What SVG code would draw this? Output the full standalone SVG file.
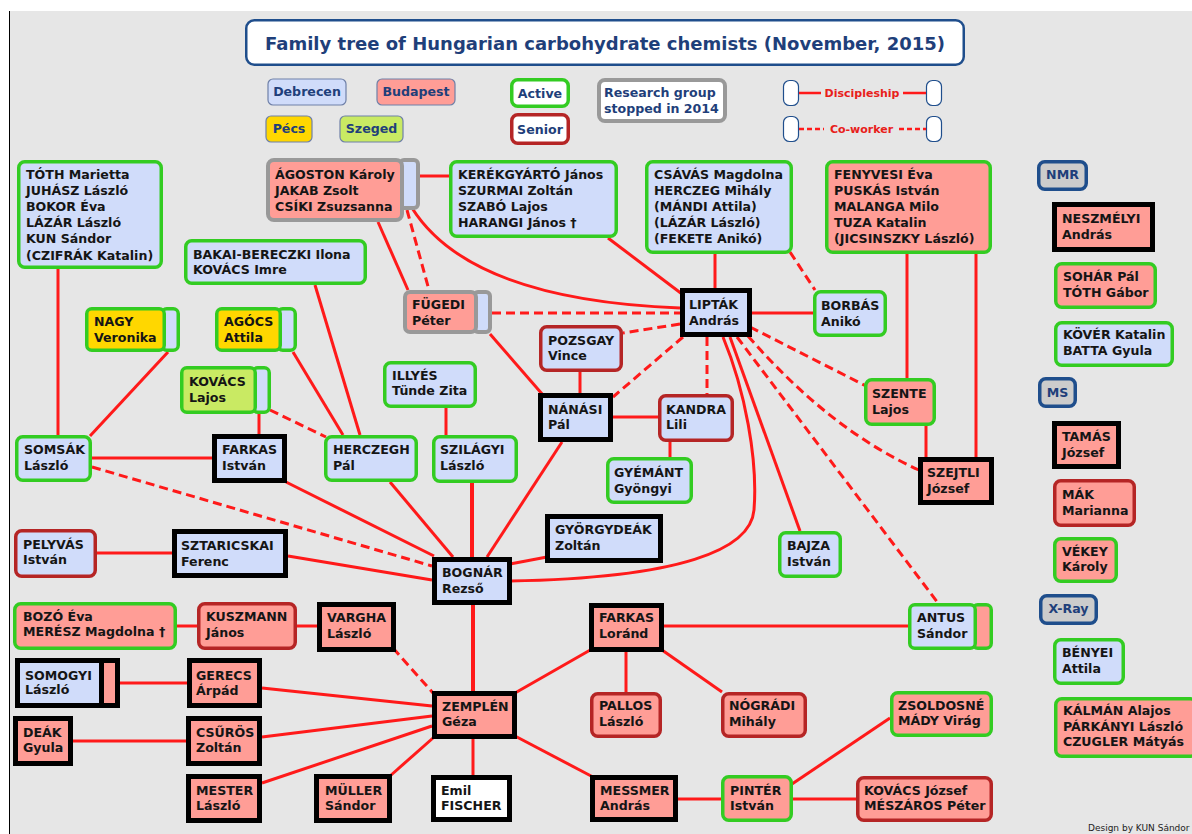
<svg xmlns="http://www.w3.org/2000/svg" width="1192" height="834" viewBox="0 0 1192 834">
<style>
text{font-family:"DejaVu Sans",Verdana,sans-serif;font-weight:bold;font-size:12.6px;fill:#151515}
.lg{fill:#1f3f7a}
.mid{text-anchor:middle}
.bl{fill:#d0dcfa}.sa{fill:#ff9d96}.ye{fill:#ffd700}.sz{fill:#c9ea63}.wh{fill:#fff}.gy{fill:#cccccc}
.g{stroke:#33cc22;stroke-width:3.5}
.r{stroke:#b52525;stroke-width:3.5}
.k{stroke:#000;stroke-width:5}
.y{stroke:#999;stroke-width:4}
.nb{stroke:#1f4e8c;stroke-width:3.5}
.lp{stroke:#6f80a8;stroke-width:1.2}
.c{fill:none;stroke:#ff1a1a;stroke-width:3}
.t{stroke-width:4}
.d{stroke-dasharray:9 5}
</style>
<rect x="0" y="0" width="1192" height="834" fill="#fff"/>
<rect x="10" y="11" width="1182" height="823" fill="#e6e6e6"/>
<line x1="9.5" y1="11" x2="9.5" y2="834" stroke="#000" stroke-width="1"/>

<g id="title">
<rect x="246.25" y="20.25" width="717.5" height="44.5" rx="8" fill="#fff" stroke="#1f4e8c" stroke-width="2.5"/>
<text x="605" y="50" class="lg mid" style="font-size:18px" textLength="680" lengthAdjust="spacingAndGlyphs">Family tree of Hungarian carbohydrate chemists (November, 2015)</text>
</g>

<g id="legend">
<rect x="268" y="79" width="78" height="26" rx="5" class="bl lp"/>
<text x="307" y="96" class="lg mid">Debrecen</text>
<rect x="377" y="79" width="78" height="26" rx="5" class="sa lp"/>
<text x="416" y="96" class="lg mid">Budapest</text>
<rect x="266" y="116" width="46" height="26" rx="5" class="ye lp"/>
<text x="289" y="133" class="lg mid">Pécs</text>
<rect x="340" y="116" width="63" height="26" rx="5" class="sz lp"/>
<text x="371.5" y="133" class="lg mid">Szeged</text>
<rect x="511.75" y="79.75" width="56.5" height="26.5" rx="6" class="wh g"/>
<text x="540" y="97.5" class="lg mid">Active</text>
<rect x="511.75" y="114.75" width="56.5" height="28.5" rx="6" class="wh r"/>
<text x="540" y="133.5" class="lg mid">Senior</text>
<rect x="599" y="80" width="126" height="41" rx="6" class="wh y"/>
<text x="604" y="96.5" class="lg">Research group</text>
<text x="604" y="112.5" class="lg">stopped in 2014</text>
<rect x="783.5" y="80.5" width="15" height="25" rx="6" fill="#fff" stroke="#1f4e8c" stroke-width="1.2"/>
<rect x="926.5" y="80.5" width="15" height="25" rx="6" fill="#fff" stroke="#1f4e8c" stroke-width="1.2"/>
<path d="M799,93H821M903,93H926" class="c" style="stroke-width:2.5"/>
<text x="862" y="97" class="mid" style="fill:#e8201a;font-size:11px">Discipleship</text>
<rect x="783.5" y="116.5" width="15" height="25" rx="6" fill="#fff" stroke="#1f4e8c" stroke-width="1.2"/>
<rect x="926.5" y="116.5" width="15" height="25" rx="6" fill="#fff" stroke="#1f4e8c" stroke-width="1.2"/>
<path d="M799,129H824M899,129H926" class="c" style="stroke-width:2.5;stroke-dasharray:5 3"/>
<text x="861.5" y="133" class="mid" style="fill:#e8201a;font-size:11px">Co-worker</text>
</g>

<g id="connectors">
<path class="c" d="M58,269V435"/>
<path class="c" d="M168,352L90,436"/>
<path class="c" d="M293,352L343,435"/>
<path class="c" d="M315,285L360,435"/>
<path class="c" d="M259,414V434"/>
<path class="c" d="M92,458H212"/>
<path class="c" d="M286,482L434,556"/>
<path class="c" d="M288,556L432,580"/>
<path class="c" d="M97,553H172"/>
<path class="c" d="M390,482L453,557"/>
<path class="c t" d="M472,483V557"/>
<path class="c" d="M446,408V435"/>
<path class="c" d="M562,442L487,557"/>
<path class="c" d="M547,557L510,564"/>
<path class="c" d="M723,337C745,390 758,460 754,510C750.8,550 680,578 510,581"/>
<path class="c" d="M613,417H658"/>
<path class="c" d="M580,372V393"/>
<path class="c" d="M670,442V457"/>
<path class="c" d="M490,334L543,395"/>
<path class="c" d="M412,208Q470,300 680,308"/>
<path class="c" d="M378,222L408,290"/>
<path class="c" d="M420,176H449"/>
<path class="c" d="M608,238L682,294"/>
<path class="c" d="M715,254V288"/>
<path class="c" d="M752,313H813"/>
<path class="c" d="M907,254V378"/>
<path class="c" d="M976,254V457"/>
<path class="c" d="M926,426V457"/>
<path class="c" d="M730,337L800,531"/>
<path class="c" d="M664,626H908"/>
<path class="c t" d="M473,605V691"/>
<path class="c" d="M515,693L592,649"/>
<path class="c" d="M626,652V692"/>
<path class="c" d="M662,650L722,692"/>
<path class="c" d="M515,736L593,777"/>
<path class="c" d="M473,739V775"/>
<path class="c" d="M678,799H721"/>
<path class="c" d="M792,784L890,718"/>
<path class="c" d="M793,799H856"/>
<path class="c" d="M262,688L432,706"/>
<path class="c" d="M262,737L432,716"/>
<path class="c" d="M262,783L432,726"/>
<path class="c" d="M390,776L433,738"/>
<path class="c" d="M297,626H317"/>
<path class="c" d="M177,626H197"/>
<path class="c" d="M120,683H187"/>
<path class="c" d="M73,741H186"/>
<path class="c d" d="M270,410L326,437"/>
<path class="c d" d="M92,467L432,566"/>
<path class="c d" d="M683,337L613,397"/>
<path class="c d" d="M707,337V394"/>
<path class="c d" d="M680,324L623,333"/>
<path class="c d" d="M492,313H680"/>
<path class="c d" d="M407,210L429,290"/>
<path class="c d" d="M790,252L815,290"/>
<path class="c d" d="M750,327L866,386"/>
<path class="c d" d="M748,336Q830,430 919,470"/>
<path class="c d" d="M737,337L938,603"/>
<path class="c d" d="M393,648L433,693"/>
</g>

<g id="toth"><rect x="18.75" y="161.75" width="142.5" height="105.5" rx="6" class="bl g"/>
<text x="26" y="178.6"><tspan x="26">TÓTH Marietta</tspan><tspan x="26" dy="16.2">JUHÁSZ László</tspan><tspan x="26" dy="16.2">BOKOR Éva</tspan><tspan x="26" dy="16.2">LÁZÁR László</tspan><tspan x="26" dy="16.2">KUN Sándor</tspan><tspan x="26" dy="16.2">(CZIFRÁK Katalin)</tspan></text></g>

<g id="agoston"><rect x="400" y="160" width="18" height="48" rx="4" class="bl y"/><rect x="268" y="160" width="134" height="60" rx="6" class="sa y"/>
<text x="275" y="178.5"><tspan x="275">ÁGOSTON Károly</tspan><tspan x="275" dy="16">JAKAB Zsolt</tspan><tspan x="275" dy="16">CSÍKI Zsuzsanna</tspan></text></g>

<g id="bakai"><rect x="185.75" y="240.75" width="179.5" height="42.5" rx="6" class="bl g"/>
<text x="193" y="258.5"><tspan x="193">BAKAI-BERECZKI Ilona</tspan><tspan x="193" dy="15.5">KOVÁCS Imre</tspan></text></g>

<g id="nagy"><rect x="161.75" y="308.75" width="16.5" height="41.5" rx="5" class="bl g"/><rect x="86.75" y="308.75" width="77.5" height="41.5" rx="5" class="ye g"/>
<text x="94" y="325.5"><tspan x="94">NAGY</tspan><tspan x="94" dy="16">Veronika</tspan></text></g>

<g id="agocs"><rect x="277.75" y="308.75" width="17.5" height="41.5" rx="5" class="bl g"/><rect x="216.75" y="308.75" width="63.5" height="41.5" rx="5" class="ye g"/>
<text x="224" y="325.5"><tspan x="224">AGÓCS</tspan><tspan x="224" dy="16">Attila</tspan></text></g>

<g id="kerekgyarto"><rect x="450.75" y="161.75" width="165.5" height="74.5" rx="6" class="bl g"/>
<text x="458" y="178.5"><tspan x="458">KERÉKGYÁRTÓ János</tspan><tspan x="458" dy="16">SZURMAI Zoltán</tspan><tspan x="458" dy="16">SZABÓ Lajos</tspan><tspan x="458" dy="16">HARANGI János †</tspan></text></g>

<g id="csavas"><rect x="646.75" y="161.75" width="144.5" height="90.5" rx="6" class="bl g"/>
<text x="654" y="178.5"><tspan x="654">CSÁVÁS Magdolna</tspan><tspan x="654" dy="16">HERCZEG Mihály</tspan><tspan x="654" dy="16">(MÁNDI Attila)</tspan><tspan x="654" dy="16">(LÁZÁR László)</tspan><tspan x="654" dy="16">(FEKETE Anikó)</tspan></text></g>

<g id="fenyvesi"><rect x="826.75" y="161.75" width="163.5" height="90.5" rx="6" class="sa g"/>
<text x="834" y="178.5"><tspan x="834">FENYVESI Éva</tspan><tspan x="834" dy="16">PUSKÁS István</tspan><tspan x="834" dy="16">MALANGA Milo</tspan><tspan x="834" dy="16">TUZA Katalin</tspan><tspan x="834" dy="16">(JICSINSZKY László)</tspan></text></g>

<g id="fugedi"><rect x="474" y="292" width="16" height="40" rx="4" class="bl y"/><rect x="405" y="292" width="71" height="40" rx="5" class="sa y"/>
<text x="412" y="308.5"><tspan x="412">FÜGEDI</tspan><tspan x="412" dy="16">Péter</tspan></text></g>

<g id="liptak"><rect x="682.5" y="290.5" width="67" height="44" class="bl k"/>
<text x="689" y="308.5"><tspan x="689">LIPTÁK</tspan><tspan x="689" dy="16.5">András</tspan></text></g>

<g id="borbas"><rect x="814.75" y="291.75" width="70.5" height="43.5" rx="6" class="bl g"/>
<text x="821" y="309.5"><tspan x="821">BORBÁS</tspan><tspan x="821" dy="16">Anikó</tspan></text></g>

<g id="pozsgay"><rect x="540.75" y="326.75" width="80.5" height="43.5" rx="6" class="bl r"/>
<text x="548" y="344.5"><tspan x="548">POZSGAY</tspan><tspan x="548" dy="15.5">Vince</tspan></text></g>

<g id="kovacs-lajos"><rect x="252.75" y="367.75" width="16.5" height="44.5" rx="5" class="bl g"/><rect x="181.75" y="367.75" width="73.5" height="44.5" rx="5" class="sz g"/>
<text x="189" y="386"><tspan x="189">KOVÁCS</tspan><tspan x="189" dy="16">Lajos</tspan></text></g>

<g id="illyes"><rect x="384.75" y="362.75" width="90.5" height="43.5" rx="6" class="bl g"/>
<text x="392" y="379.5"><tspan x="392">ILLYÉS</tspan><tspan x="392" dy="15.5">Tünde Zita</tspan></text></g>

<g id="nanasi"><rect x="540.5" y="395.5" width="70" height="44" class="bl k"/>
<text x="548" y="413.5"><tspan x="548">NÁNÁSI</tspan><tspan x="548" dy="15.5">Pál</tspan></text></g>

<g id="kandra"><rect x="659.75" y="395.75" width="72.5" height="44.5" rx="6" class="bl r"/>
<text x="666" y="413.5"><tspan x="666">KANDRA</tspan><tspan x="666" dy="15.5">Lili</tspan></text></g>

<g id="szente"><rect x="865.75" y="379.75" width="68.5" height="44.5" rx="6" class="sa g"/>
<text x="872" y="397.5"><tspan x="872">SZENTE</tspan><tspan x="872" dy="16">Lajos</tspan></text></g>

<g id="somsak"><rect x="16.75" y="436.75" width="73.5" height="43.5" rx="6" class="bl g"/>
<text x="24" y="453.5"><tspan x="24">SOMSÁK</tspan><tspan x="24" dy="16">László</tspan></text></g>

<g id="farkas-istvan"><rect x="214.5" y="436.5" width="70" height="44" class="bl k"/>
<text x="222" y="453.5"><tspan x="222">FARKAS</tspan><tspan x="222" dy="16">István</tspan></text></g>

<g id="herczegh"><rect x="325.75" y="436.75" width="90.5" height="43.5" rx="6" class="bl g"/>
<text x="333" y="453.5"><tspan x="333">HERCZEGH</tspan><tspan x="333" dy="16">Pál</tspan></text></g>

<g id="szilagyi"><rect x="433.75" y="436.75" width="82.5" height="44.5" rx="6" class="bl g"/>
<text x="440" y="453.5"><tspan x="440">SZILÁGYI</tspan><tspan x="440" dy="16">László</tspan></text></g>

<g id="gyemant"><rect x="607.75" y="458.75" width="83.5" height="43.5" rx="6" class="bl g"/>
<text x="614" y="476.5"><tspan x="614">GYÉMÁNT</tspan><tspan x="614" dy="16">Gyöngyi</tspan></text></g>

<g id="szejtli"><rect x="920.5" y="459.5" width="71" height="43" class="sa k"/>
<text x="927" y="477"><tspan x="927">SZEJTLI</tspan><tspan x="927" dy="15.5">József</tspan></text></g>

<g id="pelyvas"><rect x="15.75" y="530.75" width="79.5" height="45.5" rx="6" class="bl r"/>
<text x="23" y="548.5"><tspan x="23">PELYVÁS</tspan><tspan x="23" dy="15.5">István</tspan></text></g>

<g id="sztaricskai"><rect x="174.5" y="531.5" width="111" height="44" class="bl k"/>
<text x="181" y="549.5"><tspan x="181">SZTARICSKAI</tspan><tspan x="181" dy="16">Ferenc</tspan></text></g>

<g id="gyorgydeak"><rect x="547.5" y="516.5" width="113" height="44" class="bl k"/>
<text x="555" y="533.5"><tspan x="555">GYÖRGYDEÁK</tspan><tspan x="555" dy="16">Zoltán</tspan></text></g>

<g id="bajza"><rect x="779.75" y="532.75" width="60.5" height="43.5" rx="6" class="bl g"/>
<text x="787" y="549.5"><tspan x="787">BAJZA</tspan><tspan x="787" dy="16">István</tspan></text></g>

<g id="bognar"><rect x="434.5" y="559.5" width="75" height="43" class="bl k"/>
<text x="442" y="577"><tspan x="442">BOGNÁR</tspan><tspan x="442" dy="15.5">Rezső</tspan></text></g>

<g id="bozo"><rect x="14.75" y="603.75" width="160.5" height="44.5" rx="6" class="sa g"/>
<text x="23" y="621"><tspan x="23">BOZÓ Éva</tspan><tspan x="23" dy="15">MERÉSZ Magdolna †</tspan></text></g>

<g id="kuszmann"><rect x="198.75" y="603.75" width="96.5" height="44.5" rx="6" class="sa r"/>
<text x="206" y="621"><tspan x="206">KUSZMANN</tspan><tspan x="206" dy="15.5">János</tspan></text></g>

<g id="vargha"><rect x="319.5" y="604.5" width="74" height="45" class="sa k"/>
<text x="327" y="621.5"><tspan x="327">VARGHA</tspan><tspan x="327" dy="16">László</tspan></text></g>

<g id="farkas-lorand"><rect x="591.5" y="605.5" width="70" height="44" class="sa k"/>
<text x="599" y="622"><tspan x="599">FARKAS</tspan><tspan x="599" dy="15.5">Loránd</tspan></text></g>

<g id="antus"><rect x="972.75" y="604.75" width="18.5" height="43.5" rx="5" class="sa g"/><rect x="909.75" y="604.75" width="65.5" height="43.5" rx="5" class="bl g"/>
<text x="917" y="621.5"><tspan x="917">ANTUS</tspan><tspan x="917" dy="16">Sándor</tspan></text></g>

<g id="somogyi"><rect x="100.5" y="660.5" width="17" height="45" class="sa k"/><rect x="17.5" y="660.5" width="84" height="45" class="bl k"/>
<text x="25" y="679.5"><tspan x="25">SOMOGYI</tspan><tspan x="25" dy="14.5">László</tspan></text></g>

<g id="gerecs"><rect x="189.5" y="660.5" width="70" height="45" class="sa k"/>
<text x="196" y="679.5"><tspan x="196">GERECS</tspan><tspan x="196" dy="15">Árpád</tspan></text></g>

<g id="deak"><rect x="15.5" y="718.5" width="55" height="45" class="sa k"/>
<text x="23" y="737"><tspan x="23">DEÁK</tspan><tspan x="23" dy="15">Gyula</tspan></text></g>

<g id="csuros"><rect x="188.5" y="718.5" width="71" height="45" class="sa k"/>
<text x="196" y="737"><tspan x="196">CSŰRÖS</tspan><tspan x="196" dy="15">Zoltán</tspan></text></g>

<g id="mester"><rect x="188.5" y="776.5" width="71" height="44" class="sa k"/>
<text x="196" y="795"><tspan x="196">MESTER</tspan><tspan x="196" dy="14.5">László</tspan></text></g>

<g id="muller"><rect x="316.5" y="776.5" width="73" height="44" class="sa k"/>
<text x="325" y="795"><tspan x="325">MÜLLER</tspan><tspan x="325" dy="14.5">Sándor</tspan></text></g>

<g id="zemplen"><rect x="434.5" y="693.5" width="80" height="43" class="sa k"/>
<text x="442" y="710.5"><tspan x="442">ZEMPLÉN</tspan><tspan x="442" dy="15.5">Géza</tspan></text></g>

<g id="pallos"><rect x="591.75" y="693.75" width="68.5" height="42.5" rx="6" class="sa r"/>
<text x="599" y="710"><tspan x="599">PALLOS</tspan><tspan x="599" dy="15.5">László</tspan></text></g>

<g id="nogradi"><rect x="722.75" y="693.75" width="82.5" height="42.5" rx="6" class="sa r"/>
<text x="729" y="710"><tspan x="729">NÓGRÁDI</tspan><tspan x="729" dy="15.5">Mihály</tspan></text></g>

<g id="fischer"><rect x="433.5" y="777.5" width="76" height="42" class="wh k"/>
<text x="441" y="794.5"><tspan x="441">Emil</tspan><tspan x="441" dy="15">FISCHER</tspan></text></g>

<g id="messmer"><rect x="592.5" y="777.5" width="83" height="42" class="sa k"/>
<text x="600" y="794.5"><tspan x="600">MESSMER</tspan><tspan x="600" dy="15">András</tspan></text></g>

<g id="pinter"><rect x="722.75" y="776.75" width="68.5" height="43.5" rx="6" class="sa g"/>
<text x="730" y="794.5"><tspan x="730">PINTÉR</tspan><tspan x="730" dy="15">István</tspan></text></g>

<g id="zsoldosne"><rect x="891.75" y="692.75" width="99.5" height="42.5" rx="6" class="sa g"/>
<text x="898" y="709.5"><tspan x="898">ZSOLDOSNÉ</tspan><tspan x="898" dy="15.5">MÁDY Virág</tspan></text></g>

<g id="kovacs-jozsef"><rect x="857.75" y="777.75" width="133.5" height="42.5" rx="6" class="sa r"/>
<text x="864" y="794.5"><tspan x="864">KOVÁCS József</tspan><tspan x="864" dy="15">MÉSZÁROS Péter</tspan></text></g>

<g id="nmr"><rect x="1038.75" y="161.75" width="47.5" height="27.5" rx="6" class="gy nb"/>
<text x="1062.5" y="179" class="lg mid">NMR</text></g>

<g id="neszmelyi"><rect x="1054.5" y="204.5" width="98" height="45" class="sa k"/>
<text x="1062" y="222.5"><tspan x="1062">NESZMÉLYI</tspan><tspan x="1062" dy="16">András</tspan></text></g>

<g id="sohar"><rect x="1055.75" y="263.75" width="99.5" height="43.5" rx="6" class="sa g"/>
<text x="1063" y="281"><tspan x="1063">SOHÁR Pál</tspan><tspan x="1063" dy="16">TÓTH Gábor</tspan></text></g>

<g id="kover"><rect x="1055.75" y="322.75" width="116.5" height="42.5" rx="6" class="bl g"/>
<text x="1063" y="338.8"><tspan x="1063">KÖVÉR Katalin</tspan><tspan x="1063" dy="15.7">BATTA Gyula</tspan></text></g>

<g id="ms"><rect x="1039.75" y="378.75" width="35.5" height="27.5" rx="6" class="gy nb"/>
<text x="1057.5" y="396.5" class="lg mid">MS</text></g>

<g id="tamas"><rect x="1054.5" y="423.5" width="64" height="43" class="sa k"/>
<text x="1062" y="441"><tspan x="1062">TAMÁS</tspan><tspan x="1062" dy="15.6">József</tspan></text></g>

<g id="mak"><rect x="1054.75" y="480.75" width="79.5" height="44.5" rx="6" class="sa r"/>
<text x="1062" y="498.8"><tspan x="1062">MÁK</tspan><tspan x="1062" dy="15.7">Marianna</tspan></text></g>

<g id="vekey"><rect x="1054.75" y="538.75" width="61.5" height="42.5" rx="6" class="sa g"/>
<text x="1062" y="555.5"><tspan x="1062">VÉKEY</tspan><tspan x="1062" dy="15.7">Károly</tspan></text></g>

<g id="xray"><rect x="1040.75" y="595.75" width="55.5" height="27.5" rx="6" class="gy nb"/>
<text x="1068.5" y="613" class="lg mid">X-Ray</text></g>

<g id="benyei"><rect x="1054.75" y="639.75" width="68.5" height="43.5" rx="6" class="bl g"/>
<text x="1062" y="657"><tspan x="1062">BÉNYEI</tspan><tspan x="1062" dy="15.6">Attila</tspan></text></g>

<g id="kalman"><rect x="1055.75" y="698.75" width="140.5" height="57.5" rx="6" class="sa g"/>
<text x="1063" y="715"><tspan x="1063">KÁLMÁN Alajos</tspan><tspan x="1063" dy="15.5">PÁRKÁNYI László</tspan><tspan x="1063" dy="15.5">CZUGLER Mátyás</tspan></text></g>

<text x="1088" y="831" style="font-weight:normal;font-size:9px;fill:#222">Design by KUN Sándor</text>
</svg>
